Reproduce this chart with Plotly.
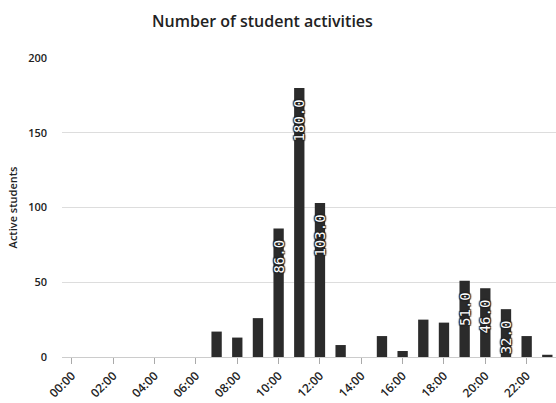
import plotly.graph_objects as go

hours = list(range(24))
active_students = [0, 0, 0, 0, 0, 0, 0, 17, 13, 26, 86, 180, 103, 8, 0, 14, 4, 25, 23, 51, 46, 32, 14, 1.5]
tick_hours = list(range(0, 24, 2))
tick_labels = [f"{h:02d}:00" for h in tick_hours]
label_threshold = 30

labels = [f"{v:.1f}\u00a0" if v >= label_threshold else "" for v in active_students]

fig = go.Figure(go.Bar(
    x=hours,
    y=active_students,
    width=0.5,
    marker=dict(color="#2b2b2b", line=dict(width=0)),
    text=labels,
    textposition="inside",
    insidetextanchor="end",
    textangle=-90,
    constraintext="none",
    textfont=dict(family="DejaVu Sans Mono", size=14, color="white",
                  shadow="1px 1px 1px #222, -1px -1px 1px #222, 1px -1px 1px #222, -1px 1px 1px #222"),
    cliponaxis=False,
))

fig.update_layout(
    width=556, height=403,
    margin=dict(l=62, r=0, t=58, b=46),
    paper_bgcolor="white", plot_bgcolor="white",
    title=dict(text="Number of student activities", x=0.472, xanchor="center", y=0.947, yanchor="middle",
               font=dict(family="Open Sans", size=16, color="#222", weight=600)),
    font=dict(family="Open Sans", size=11, color="#333"),
    showlegend=False,
)
fig.update_xaxes(
    range=[-0.48, 23.42],
    tickmode="array", tickvals=tick_hours, ticktext=tick_labels,
    tickangle=-45, ticks="outside", ticklen=6, tickcolor="#aaaaaa",
    showgrid=False, showline=True, linecolor="#cccccc", linewidth=1,
    tickfont=dict(family="Open Sans", size=12, color="#222", weight=600),
    zeroline=False,
)
fig.update_yaxes(
    range=[0, 200], tickvals=[0, 50, 100, 150, 200],
    showgrid=True, gridcolor="#dddddd", gridwidth=1,
    zeroline=False, showline=False,
    title=dict(text="Active students", font=dict(family="Open Sans", size=11, color="#222", weight=600), standoff=8),
    tickfont=dict(family="Open Sans", size=11, color="#222", weight=600),
    ticks="", ticklabelstandoff=14,
)

fig.write_html("out.html")
